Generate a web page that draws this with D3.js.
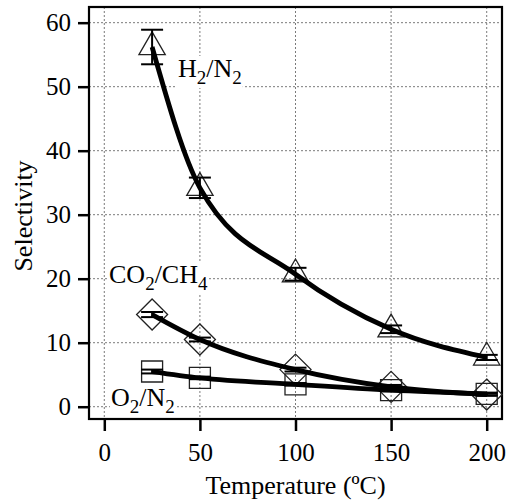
<!DOCTYPE html>
<html>
<head>
<meta charset="utf-8">
<script src="https://cdn.jsdelivr.net/npm/d3@7"></script>
<style>
  html, body { margin: 0; padding: 0; background: #fff; }
  text { font-family: "Liberation Serif", "Times New Roman", serif; fill: #000; }
</style>
</head>
<body>
<svg id="chart" width="511" height="501"></svg>
<script>
// Gas-pair selectivity versus temperature
const temperatures = [25, 50, 100, 150, 200];

const h2n2 = [56.2, 34.2, 20.7, 12.1, 7.7];
const h2n2Err = [2.7, 1.6, 1.0, 0.6, 0.4];

const co2ch4 = [14.4, 10.5, 5.8, 3.1, 1.9];
const co2ch4Err = [0.4, 0.3, 0.3, 0.3, 0.2];

const o2n2 = [5.5, 4.5, 3.5, 2.6, 2.0];
const o2n2Err = [0.3, 0.2, 0.2, 0.2, 0.2];

const xTicks = [0, 50, 100, 150, 200];
const yTicks = [0, 10, 20, 30, 40, 50, 60];

const serif = '"Liberation Serif", "Times New Roman", serif';
const svg = d3.select("#chart");
const plotLeft = 89, plotTop = 7, plotRight = 502, plotBottom = 419;

const x = d3.scaleLinear().domain([-8, 208]).range([plotLeft, plotRight]);
const y = d3.scaleLinear().domain([-1.92, 62.45]).range([plotBottom, plotTop]);

// dotted grid
const grid = svg.append("g").attr("stroke", "#7a7a7a").attr("stroke-width", 1)
  .attr("stroke-dasharray", "2,2").attr("fill", "none");
grid.selectAll("line.v").data(xTicks).join("line").attr("class", "v")
  .attr("x1", d => x(d)).attr("x2", d => x(d)).attr("y1", plotTop).attr("y2", plotBottom);
grid.selectAll("line.h").data(yTicks).join("line").attr("class", "h")
  .attr("x1", plotLeft).attr("x2", plotRight).attr("y1", d => y(d)).attr("y2", d => y(d));

// axes
const xAxis = svg.append("g").attr("transform", `translate(0,${plotBottom})`)
  .call(d3.axisBottom(x).tickValues(xTicks).tickSize(12).tickSizeOuter(0).tickPadding(12));
const yAxis = svg.append("g").attr("transform", `translate(${plotLeft},0)`)
  .call(d3.axisLeft(y).tickValues(yTicks).tickSize(11).tickSizeOuter(0).tickPadding(7));
[xAxis, yAxis].forEach(a => {
  a.attr("font-family", serif).attr("font-size", 25);
  a.select(".domain").remove();
  a.selectAll(".tick line").attr("stroke", "#000").attr("stroke-width", 2.5);
  a.selectAll(".tick text").attr("font-family", serif).attr("font-size", 25);
});

// frame
svg.append("rect").attr("x", plotLeft).attr("y", plotTop)
  .attr("width", plotRight - plotLeft).attr("height", plotBottom - plotTop)
  .attr("fill", "none").attr("stroke", "#000").attr("stroke-width", 2.2);

// axis titles
svg.append("text").attr("x", (plotLeft + plotRight) / 2).attr("y", 494)
  .attr("text-anchor", "middle").attr("font-size", 26).text("Temperature (ºC)");
svg.append("text").attr("transform", "translate(32,216) rotate(-90)")
  .attr("text-anchor", "middle").attr("font-size", 26).text("Selectivity");

// marker shapes
const triPath = d3.symbol().type(d3.symbolTriangle).size(300)();
const diamondPath = (() => { const r = 15.5; return `M0,${-r}L${r},0L0,${r}L${-r},0Z`; })();
const squarePath = (() => { const r = 10.5; return `M${-r},${-r}H${r}V${r}H${-r}Z`; })();

const series = [
  { name: "H2N2", values: h2n2, err: h2n2Err, shape: triPath },
  { name: "CO2CH4", values: co2ch4, err: co2ch4Err, shape: diamondPath },
  { name: "O2N2", values: o2n2, err: o2n2Err, shape: squarePath }
];

const line = d3.line().x(d => x(d[0])).y(d => y(d[1])).curve(d3.curveMonotoneX);

series.forEach(s => {
  const pts = temperatures.map((t, i) => [t, s.values[i], s.err[i]]);
  const g = svg.append("g").attr("class", s.name);
  // markers
  g.selectAll("path.mk").data(pts).join("path").attr("class", "mk")
    .attr("d", s.shape)
    .attr("transform", d => `translate(${x(d[0])},${y(d[1])})`)
    .attr("fill", "none").attr("stroke", "#222").attr("stroke-width", 1.3);
  // error bars
  const eb = g.selectAll("g.eb").data(pts).join("g").attr("class", "eb")
    .attr("stroke", "#000").attr("stroke-width", 2);
  eb.append("line").attr("x1", d => x(d[0])).attr("x2", d => x(d[0]))
    .attr("y1", d => y(d[1] - d[2])).attr("y2", d => y(d[1] + d[2]));
  eb.append("line").attr("x1", d => x(d[0]) - 11).attr("x2", d => x(d[0]) + 11)
    .attr("y1", d => y(d[1] + d[2])).attr("y2", d => y(d[1] + d[2]));
  eb.append("line").attr("x1", d => x(d[0]) - 11).attr("x2", d => x(d[0]) + 11)
    .attr("y1", d => y(d[1] - d[2])).attr("y2", d => y(d[1] - d[2]));
});

// curves drawn on top of markers
series.forEach(s => {
  const pts = temperatures.map((t, i) => [t, s.values[i]]);
  svg.append("path").datum(pts).attr("d", line)
    .attr("fill", "none").attr("stroke", "#000").attr("stroke-width", 4.8)
    .attr("stroke-linejoin", "round").attr("stroke-linecap", "butt");
});

// series labels with white backing
function label(px, py, parts) {
  const g = svg.append("g");
  const t = g.append("text").attr("x", px).attr("y", py).attr("font-size", 26);
  parts.forEach(p => {
    if (p.sub) {
      t.append("tspan").attr("font-size", 19).attr("dy", 7).text(p.t);
    } else {
      t.append("tspan").attr("dy", p.after ? -7 : 0).text(p.t);
    }
  });
  const bb = t.node().getBBox();
  g.insert("rect", "text").attr("x", bb.x - 1).attr("y", bb.y + 2)
    .attr("width", bb.width + 2).attr("height", bb.height - 2).attr("fill", "#fff");
}
label(178, 77, [{ t: "H" }, { t: "2", sub: true }, { t: "/N", after: true }, { t: "2", sub: true }]);
label(109, 283, [{ t: "CO" }, { t: "2", sub: true }, { t: "/CH", after: true }, { t: "4", sub: true }]);
label(111, 406, [{ t: "O" }, { t: "2", sub: true }, { t: "/N", after: true }, { t: "2", sub: true }]);
</script>
</body>
</html>
